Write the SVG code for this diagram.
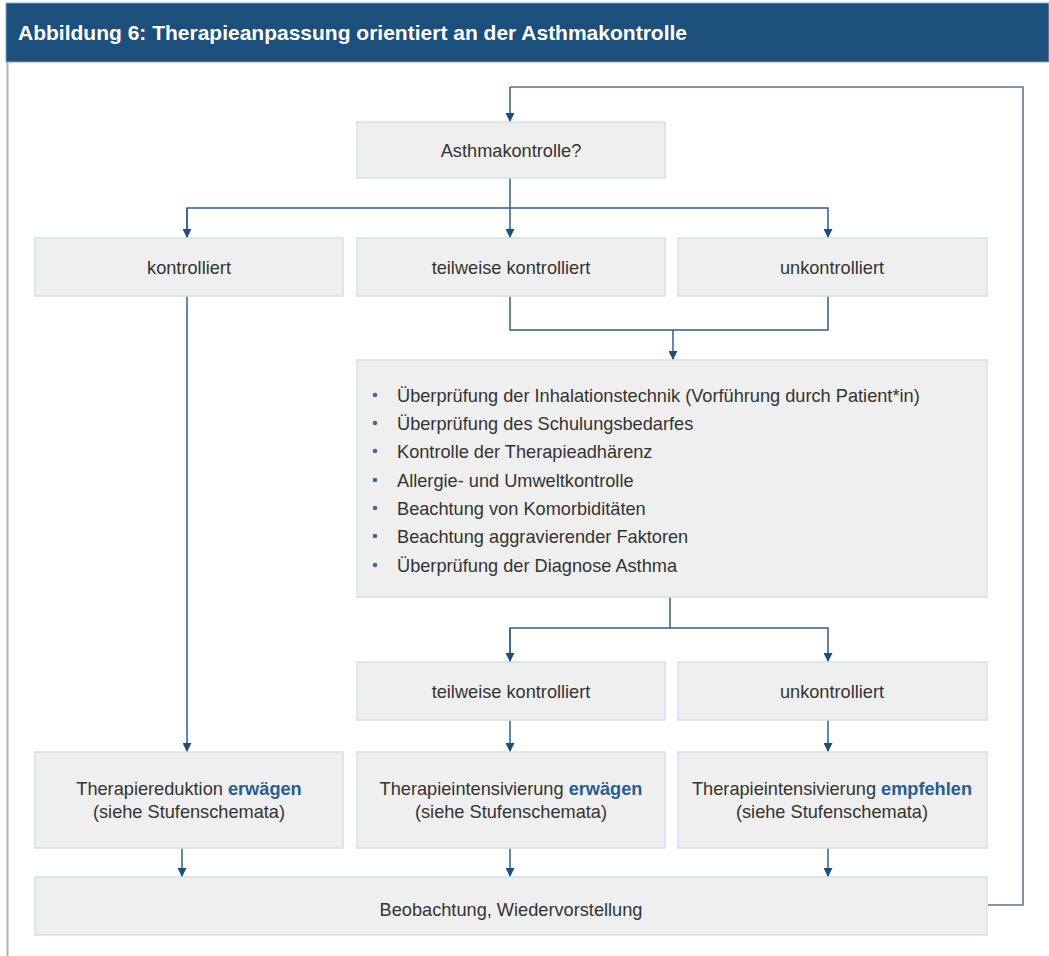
<svg xmlns="http://www.w3.org/2000/svg" width="1049" height="956" viewBox="0 0 1049 956">
  <style>
    .box { fill: #efefef; stroke: #d3e1ec; stroke-width: 1.5; }
    .lbl { font-family: "Liberation Sans", Arial, sans-serif; font-size: 18.2px; fill: #333333; text-anchor: middle; }
    .item { font-family: "Liberation Sans", Arial, sans-serif; font-size: 18.2px; fill: #333333; }
    .em { fill: #2a5d8f; font-weight: bold; }
    .con { fill: none; stroke: #2f5f8c; stroke-width: 1.5; }
    .loop { fill: none; stroke: #7f95ad; stroke-width: 2; }
    .dot { fill: #3d6a99; }
  </style>
  <defs>
    <marker id="arr" viewBox="0 0 10 10" refX="10" refY="5" markerWidth="9" markerHeight="9" markerUnits="userSpaceOnUse" orient="auto">
      <path d="M0,0 L10,5 L0,10 z" fill="#1f4e7a"/>
    </marker>
  </defs>

  <rect width="1049" height="956" fill="#ffffff"/>
  <!-- frame -->
  <line x1="7.5" y1="60" x2="7.5" y2="956" stroke="#a9b5c2" stroke-width="2"/>
  <g id="header">
    <rect x="6" y="3" width="1043" height="59" fill="#1d4f7d" stroke="#8aa3bd" stroke-width="1"/>
    <text x="18" y="40" font-family="'Liberation Sans', Arial, sans-serif" font-size="21" font-weight="bold" fill="#ffffff">Abbildung 6:  Therapieanpassung orientiert an der Asthmakontrolle</text>
  </g>

  <!-- connectors -->
  <g id="connectors">
    <path class="loop" d="M988,905 H1023 V87 H510"/>
    <path class="con" d="M510,87 V122" marker-end="url(#arr)"/>
    <path class="con" d="M510,178 V238" marker-end="url(#arr)"/>
    <path class="con" d="M187,238 V208 H828 V238" marker-end="url(#arr)"/>
    <path class="con" d="M187,208 V238" marker-end="url(#arr)"/>
    <path class="con" d="M510,296 V330 H828 V296"/>
    <path class="con" d="M673,330 V360" marker-end="url(#arr)"/>
    <path class="con" d="M670,597 V628"/>
    <path class="con" d="M510,662 V628 H828 V662" marker-end="url(#arr)"/>
    <path class="con" d="M510,628 V662" marker-end="url(#arr)"/>
    <path class="con" d="M187,296 V752" marker-end="url(#arr)"/>
    <path class="con" d="M510,720 V752" marker-end="url(#arr)"/>
    <path class="con" d="M828,720 V752" marker-end="url(#arr)"/>
    <path class="con" d="M182,848 V877" marker-end="url(#arr)"/>
    <path class="con" d="M510,848 V877" marker-end="url(#arr)"/>
    <path class="con" d="M828,848 V877" marker-end="url(#arr)"/>
  </g>

  <g id="n-asthmakontrolle">
    <rect class="box" x="357" y="122" width="308" height="56"/>
    <text class="lbl" x="511" y="157">Asthmakontrolle?</text>
  </g>

  <g id="n-kontrolliert">
    <rect class="box" x="35" y="238" width="308" height="58"/>
    <text class="lbl" x="189" y="274">kontrolliert</text>
  </g>
  <g id="n-teilweise-1">
    <rect class="box" x="357" y="238" width="308" height="58"/>
    <text class="lbl" x="511" y="274">teilweise kontrolliert</text>
  </g>
  <g id="n-unkontrolliert-1">
    <rect class="box" x="678" y="238" width="309" height="58"/>
    <text class="lbl" x="832" y="274">unkontrolliert</text>
  </g>

  <g id="n-massnahmen">
    <rect class="box" x="357" y="360" width="630" height="237"/>
    <circle class="dot" cx="375" cy="395" r="2.3"/>
    <circle class="dot" cx="375" cy="423" r="2.3"/>
    <circle class="dot" cx="375" cy="451" r="2.3"/>
    <circle class="dot" cx="375" cy="480" r="2.3"/>
    <circle class="dot" cx="375" cy="508" r="2.3"/>
    <circle class="dot" cx="375" cy="536" r="2.3"/>
    <circle class="dot" cx="375" cy="565" r="2.3"/>
    <text class="item" x="397" y="402">Überprüfung der Inhalationstechnik (Vorführung durch Patient*in)</text>
    <text class="item" x="397" y="430">Überprüfung des Schulungsbedarfes</text>
    <text class="item" x="397" y="458">Kontrolle der Therapieadhärenz</text>
    <text class="item" x="397" y="487">Allergie- und Umweltkontrolle</text>
    <text class="item" x="397" y="515">Beachtung von Komorbiditäten</text>
    <text class="item" x="397" y="543">Beachtung aggravierender Faktoren</text>
    <text class="item" x="397" y="572">Überprüfung der Diagnose Asthma</text>
  </g>

  <g id="n-teilweise-2">
    <rect class="box" x="357" y="662" width="308" height="58"/>
    <text class="lbl" x="511" y="698">teilweise kontrolliert</text>
  </g>
  <g id="n-unkontrolliert-2">
    <rect class="box" x="678" y="662" width="309" height="58"/>
    <text class="lbl" x="832" y="698">unkontrolliert</text>
  </g>

  <g id="n-reduktion">
    <rect class="box" x="35" y="752" width="308" height="96"/>
    <text class="lbl" x="189" y="795">Therapiereduktion <tspan class="em">erwägen</tspan></text>
    <text class="lbl" x="189" y="818">(siehe Stufenschemata)</text>
  </g>
  <g id="n-intens-erwaegen">
    <rect class="box" x="357" y="752" width="308" height="96"/>
    <text class="lbl" x="511" y="795">Therapieintensivierung <tspan class="em">erwägen</tspan></text>
    <text class="lbl" x="511" y="818">(siehe Stufenschemata)</text>
  </g>
  <g id="n-intens-empfehlen">
    <rect class="box" x="678" y="752" width="309" height="96"/>
    <text class="lbl" x="832" y="795">Therapieintensivierung <tspan class="em">empfehlen</tspan></text>
    <text class="lbl" x="832" y="818">(siehe Stufenschemata)</text>
  </g>

  <g id="n-beobachtung">
    <rect class="box" x="35" y="877" width="952" height="58"/>
    <text class="lbl" x="511" y="916">Beobachtung, Wiedervorstellung</text>
  </g>
</svg>
